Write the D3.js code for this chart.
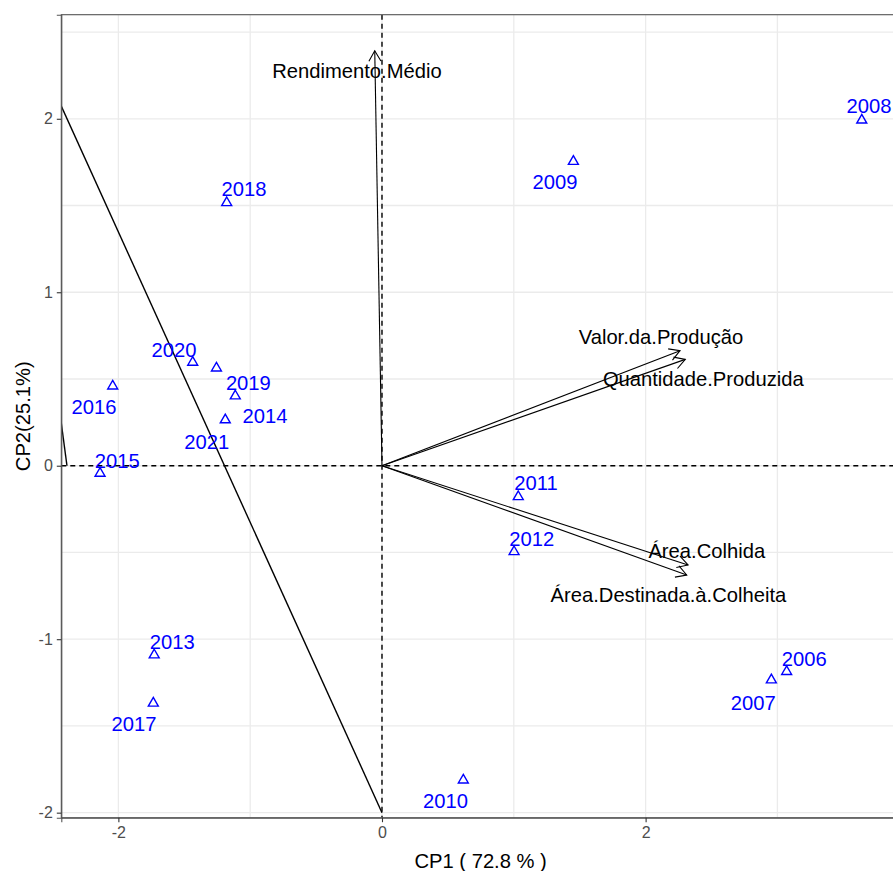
<!DOCTYPE html>
<html>
<head>
<meta charset="utf-8">
<script src="https://cdn.jsdelivr.net/npm/d3@7"></script>
<style>
  html, body { margin: 0; padding: 0; background: #fff; }
  svg { display: block; font-family: "Liberation Sans", Arial, sans-serif; }
</style>
</head>
<body>
<svg id="chart" width="893" height="871"></svg>
<script>
// ---- data ----
const years = ["2006","2007","2008","2009","2010","2011","2012","2013","2014","2015","2016","2017","2018","2019","2020","2021"];
const pc1 = [3.07, 2.954, 3.64, 1.452, 0.617, 1.034, 1.002, -1.728, -1.113, -2.139, -2.043, -1.735, -1.178, -1.256, -1.436, -1.189];
const pc2 = [-1.187, -1.235, 1.992, 1.754, -1.812, -0.179, -0.496, -1.091, 0.402, -0.044, 0.459, -1.369, 1.516, 0.563, 0.596, 0.264];
const yearLabelX = [3.204, 2.817, 3.695, 1.313, 0.482, 1.168, 1.136, -1.591, -0.888, -2.008, -2.185, -1.882, -1.047, -1.014, -1.578, -1.330];
const yearLabelY = [-1.116, -1.366, 2.074, 1.635, -1.933, -0.098, -0.424, -1.018, 0.288, 0.027, 0.337, -1.489, 1.593, 0.478, 0.667, 0.138];

const variables = ["Rendimento.Médio", "Valor.da.Produção", "Quantidade.Produzida", "Área.Colhida", "Área.Destinada.à.Colheita"];
const loadX = [-0.055, 2.261, 2.301, 2.322, 2.312];
const loadY = [2.392, 0.663, 0.613, -0.572, -0.630];
const varLabelX = [-0.19, 2.117, 2.438, 2.464, 2.173];
const varLabelY = [2.275, 0.744, 0.498, -0.49, -0.745];

// stray solid path segments (data units)
const pathA = [[0, -2], [-2.6, 2.352]];
const pathB = [[-2.39, 0], [-2.5, 0.627]];

const xTicks = [-2, 0, 2];
const yTicks = [-2, -1, 0, 1, 2];
const xMinor = [-3, -1, 1, 3];
const yMinor = [-1.5, -0.5, 0.5, 1.5, 2.5];
const xTitle = "CP1 ( 72.8 % )";
const yTitle = "CP2(25.1%)";

// ---- layout ----
const svg = d3.select("#chart");
const pL = 61.3, pR = 900, pT = 14.7, pB = 817.7;
const x = d3.scaleLinear().domain([-2.433, 3.93]).range([pL, pR]);
const y = d3.scaleLinear().domain([-2.029, 2.6]).range([pB, pT]);
const fs = 20.2;

svg.append("defs").append("clipPath").attr("id", "clip")
  .append("rect").attr("x", pL).attr("y", pT).attr("width", pR - pL).attr("height", pB - pT);

// grid
const grid = svg.append("g");
grid.selectAll(".vx").data(xTicks.concat(xMinor)).join("line")
  .attr("x1", d => x(d)).attr("x2", d => x(d)).attr("y1", pT).attr("y2", pB)
  .attr("stroke", "#EBEBEB").attr("stroke-width", 1.3);
grid.selectAll(".hy").data(yTicks.concat(yMinor)).join("line")
  .attr("y1", d => y(d)).attr("y2", d => y(d)).attr("x1", pL).attr("x2", pR)
  .attr("stroke", "#EBEBEB").attr("stroke-width", 1.3);

const plot = svg.append("g").attr("clip-path", "url(#clip)");

// reference dashed lines
plot.append("line").attr("x1", x(0)).attr("x2", x(0)).attr("y1", pT).attr("y2", pB)
  .attr("stroke", "#000").attr("stroke-width", 1.4).attr("stroke-dasharray", "5,4");
plot.append("line").attr("y1", y(0)).attr("y2", y(0)).attr("x1", pL).attr("x2", pR)
  .attr("stroke", "#000").attr("stroke-width", 1.4).attr("stroke-dasharray", "5,4");

// stray solid lines
const line = d3.line().x(d => x(d[0])).y(d => y(d[1]));
[pathA, pathB].forEach(p => {
  plot.append("path").attr("d", line(p)).attr("fill", "none").attr("stroke", "#000").attr("stroke-width", 1.4);
});

// arrows
const headLen = 12, headAng = Math.PI / 6;
variables.forEach((v, i) => {
  const x0 = x(0), y0 = y(0), x1 = x(loadX[i]), y1 = y(loadY[i]);
  const ang = Math.atan2(y1 - y0, x1 - x0);
  plot.append("line").attr("x1", x0).attr("y1", y0).attr("x2", x1).attr("y2", y1)
    .attr("stroke", "#000").attr("stroke-width", 1.1);
  const p1 = [x1 - headLen * Math.cos(ang - headAng), y1 - headLen * Math.sin(ang - headAng)];
  const p2 = [x1 - headLen * Math.cos(ang + headAng), y1 - headLen * Math.sin(ang + headAng)];
  plot.append("path").attr("d", `M${p1[0]},${p1[1]}L${x1},${y1}L${p2[0]},${p2[1]}`)
    .attr("fill", "none").attr("stroke", "#000").attr("stroke-width", 1.1);
});

// variable labels
svg.append("g").selectAll("text").data(variables).join("text")
  .attr("x", (d, i) => x(varLabelX[i])).attr("y", (d, i) => y(varLabelY[i]))
  .attr("text-anchor", "middle").attr("dominant-baseline", "central")
  .attr("font-size", fs).attr("fill", "#000").text(d => d);

// points
const tri = d3.symbol().type(d3.symbolTriangle).size(43);
svg.append("g").selectAll("path").data(years).join("path")
  .attr("d", tri)
  .attr("transform", (d, i) => `translate(${x(pc1[i])},${y(pc2[i])})`)
  .attr("fill", "none").attr("stroke", "#0000FF").attr("stroke-width", 1.4);

// year labels
svg.append("g").selectAll("text").data(years).join("text")
  .attr("x", (d, i) => x(yearLabelX[i])).attr("y", (d, i) => y(yearLabelY[i]))
  .attr("text-anchor", "middle").attr("dominant-baseline", "central")
  .attr("font-size", fs).attr("fill", "#0000FF").text(d => d);

// panel border
svg.append("rect").attr("x", pL).attr("y", pT).attr("width", pR - pL).attr("height", pB - pT)
  .attr("fill", "none").attr("stroke", "#555").attr("stroke-width", 1.1);

// axes
const xAxis = svg.append("g").attr("transform", `translate(0,${pB})`)
  .call(d3.axisBottom(x).tickValues(xTicks).tickFormat(d3.format("d")).tickSizeOuter(0).tickSize(4.5).tickPadding(4));
const yAxis = svg.append("g").attr("transform", `translate(${pL},0)`)
  .call(d3.axisLeft(y).tickValues(yTicks).tickFormat(d3.format("d")).tickSizeOuter(0).tickSize(4.5).tickPadding(4));
[xAxis, yAxis].forEach(a => {
  a.select(".domain").attr("stroke", "#555").attr("stroke-width", 1.1);
  a.selectAll(".tick line").attr("stroke", "#333").attr("stroke-width", 1.1);
  a.selectAll(".tick text").attr("fill", "#4D4D4D").attr("font-size", 16)
    .attr("font-family", "Liberation Sans, Arial, sans-serif");
});
yAxis.selectAll(".tick text").text(d => d < 0 ? "-" + Math.abs(d) : d);
xAxis.selectAll(".tick text").text(d => d < 0 ? "-" + Math.abs(d) : d);

// axis titles
svg.append("text").attr("x", (pL + pR) / 2).attr("y", 861)
  .attr("text-anchor", "middle").attr("dominant-baseline", "central")
  .attr("font-size", fs).attr("fill", "#000").text(xTitle);
svg.append("text").attr("transform", `translate(23,${(pT + pB) / 2}) rotate(-90)`)
  .attr("text-anchor", "middle").attr("dominant-baseline", "central")
  .attr("font-size", fs).attr("fill", "#000").text(yTitle);
</script>
</body>
</html>
